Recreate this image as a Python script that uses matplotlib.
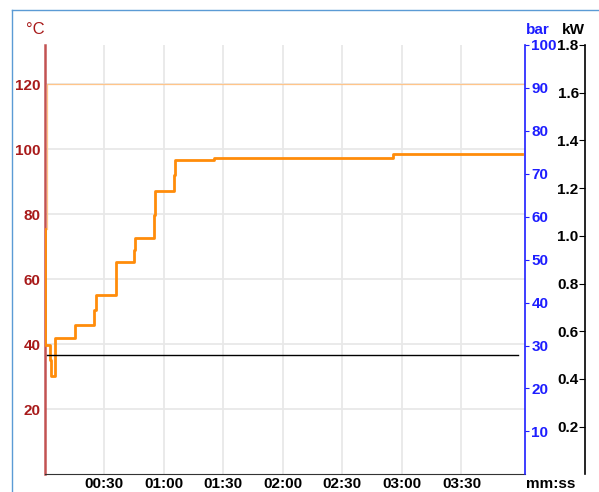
import matplotlib
matplotlib.use("Agg")
import matplotlib.pyplot as plt
from matplotlib.lines import Line2D
from matplotlib.ticker import FuncFormatter

plt.rcParams["font.family"] = ["Liberation Sans", "DejaVu Sans"]

# temperatura misurata (s, °C) - a gradini
t_temp = [0, 0.3, 2.7, 3.3, 5.3, 15.3, 25.0, 25.9, 35.8, 45.0, 45.5, 55.1, 55.6,
          64.9, 65.6, 85.4, 175.5, 240.6]
temp = [75.5, 39.8, 35.2, 30.2, 42.0, 45.9, 50.6, 55.0, 65.2, 69.0, 72.7, 79.8,
        87.0, 91.9, 96.5, 97.3, 98.5, 98.5]

# setpoint (s, °C)
t_set = [1.3, 1.3, 242]
setp = [75.5, 120, 120]

# potenza (s, kW)
t_pow = [1.2, 238.5]
power = [0.5, 0.5]

x_ticks = [30, 60, 90, 120, 150, 180, 210]
c_ticks = [20, 40, 60, 80, 100, 120]
bar_ticks = [10, 20, 30, 40, 50, 60, 70, 80, 90, 100]
kw_ticks = [0.2, 0.4, 0.6, 0.8, 1.0, 1.2, 1.4, 1.6, 1.8]

W, H = 599, 492
RED_LBL = "#A81A1A"
RED_SPINE = "#C25252"
BLUE = "#1E1EFF"

fig = plt.figure(figsize=(W / 100, H / 100), dpi=100)
ax = fig.add_axes([44.7 / W, 1 - 474.3 / H, (525 - 44.7) / W, (474.3 - 45) / H])

ax.plot(t_set, setp, color="#FFC58A", lw=0.9, zorder=3)
ax.plot(t_temp, temp, color="#FF8C0A", lw=2.0, drawstyle="steps-post", zorder=4)

ax.set_xlim(0, 242)
ax.set_ylim(0, 132)
ax.set_xticks(x_ticks)
ax.xaxis.set_major_formatter(FuncFormatter(lambda v, p: f"{int(v) // 60:02d}:{int(v) % 60:02d}"))
ax.set_yticks(c_ticks)
ax.grid(True, color="#E8E8E8", lw=1.3)
ax.set_axisbelow(True)
ax.tick_params(axis="x", length=0, pad=2, labelsize=11)
ax.tick_params(axis="y", length=0, pad=3, labelsize=11, labelcolor=RED_LBL)
for lbl in ax.get_xticklabels() + ax.get_yticklabels():
    lbl.set_fontweight("bold")
ax.spines["top"].set_visible(False)
ax.spines["right"].set_visible(False)
ax.spines["left"].set_color(RED_SPINE)
ax.spines["left"].set_linewidth(1.8)
ax.spines["bottom"].set_color("#333333")

# asse bar
ax2 = ax.twinx()
ax2.set_ylim(0, 100)
ax2.set_yticks(bar_ticks)
ax2.tick_params(axis="y", colors=BLUE, length=3, pad=1.5, labelsize=11)
for lbl in ax2.get_yticklabels():
    lbl.set_fontweight("bold")
for s in ["top", "left", "bottom"]:
    ax2.spines[s].set_visible(False)
ax2.spines["right"].set_color(BLUE)
ax2.spines["right"].set_linewidth(1.2)

# asse kW
ax3 = ax.twinx()
ax3.set_ylim(0, 1.8)
ax3.plot(t_pow, power, color="black", lw=1.0, zorder=5)
ax3.yaxis.set_ticks_position("left")
ax3.yaxis.set_label_position("left")
ax3.spines["left"].set_position(("axes", (585 - 44.7) / (525 - 44.7)))
for s in ["top", "right", "bottom"]:
    ax3.spines[s].set_visible(False)
ax3.spines["left"].set_color("black")
ax3.spines["left"].set_linewidth(1.2)
ax3.set_yticks(kw_ticks)
ax3.yaxis.set_major_formatter(FuncFormatter(lambda v, p: f"{v:.1f}"))
ax3.tick_params(axis="y", colors="black", length=4, pad=0.5, labelsize=11)
for lbl in ax3.get_yticklabels():
    lbl.set_fontweight("bold")

# etichette unità
fig.text(35.5 / W, 1 - 29.5 / H, "°C", color=RED_LBL, fontsize=12, ha="center", va="center")
fig.text(538 / W, 1 - 30 / H, "bar", color=BLUE, fontsize=11, fontweight="bold", ha="center", va="center")
fig.text(573 / W, 1 - 30 / H, "kW", color="black", fontsize=11, fontweight="bold", ha="center", va="center")
fig.text(551 / W, 1 - 484 / H, "mm:ss", color="black", fontsize=11, fontweight="bold", ha="center", va="center")

# bordo esterno
border = "#5B9BD5"
fig.add_artist(Line2D([11.7 / W, 11.7 / W], [0, 1 - 10.4 / H], color=border, lw=1.0, transform=fig.transFigure))
fig.add_artist(Line2D([11.7 / W, 1], [1 - 10.4 / H, 1 - 10.4 / H], color=border, lw=1.0, transform=fig.transFigure))

fig.savefig("out.png", dpi=100)
